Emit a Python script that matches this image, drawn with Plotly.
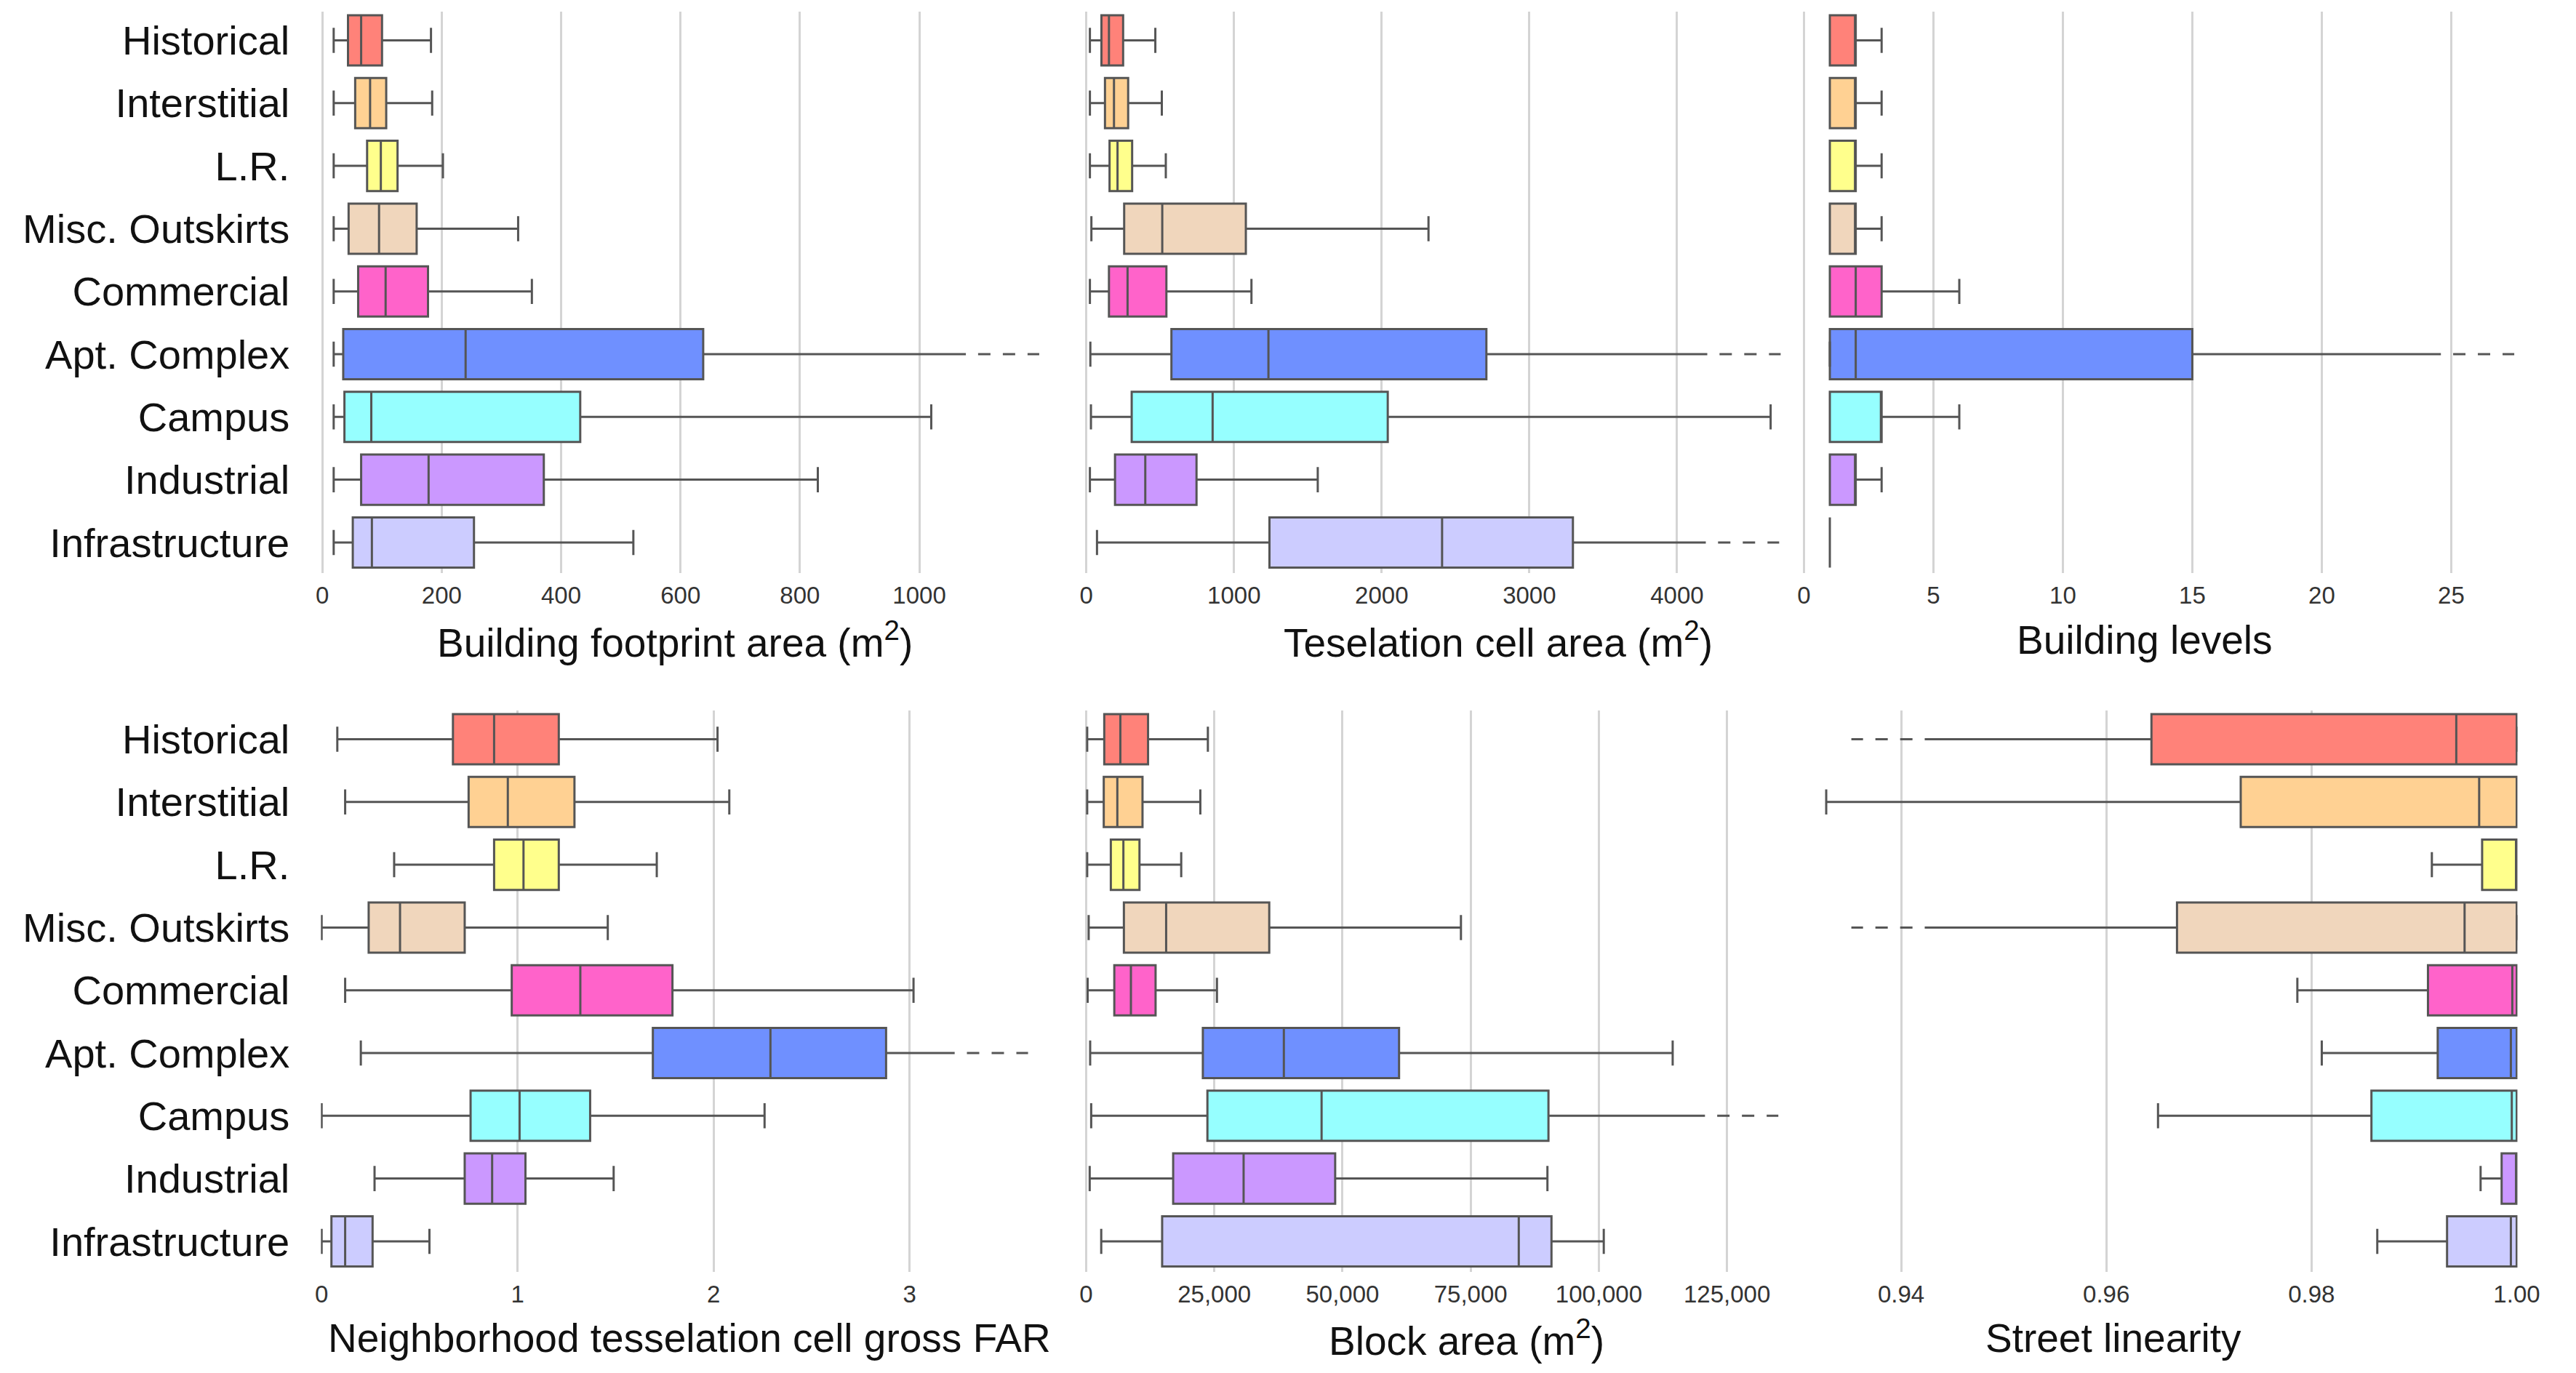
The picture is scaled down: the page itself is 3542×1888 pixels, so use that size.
import plotly.graph_objects as go

# ---------------- data ----------------
categories = ["Historical", "Interstitial", "L.R.", "Misc. Outskirts", "Commercial",
              "Apt. Complex", "Campus", "Industrial", "Infrastructure"]
colors = ["#FF8279", "#FFD193", "#FFFF8C", "#F0D6BC", "#FF63CA",
          "#6F90FF", "#96FFFF", "#CB98FF", "#CCCCFF"]

# Building footprint area (m2)
fp_low = [19, 19, 19, 19, 19, 19, 19, 19, 19]
fp_q1 = [43, 55, 75, 44, 60, 35, 37, 65, 51]
fp_med = [65, 80, 98, 95, 106, 240, 82, 178, 83]
fp_q3 = [100, 107, 126, 158, 177, 638, 432, 371, 254]
fp_high = [182, 184, 202, 328, 351, 1078, 1020, 830, 521]
fp_cut = ["Apt. Complex"]
fp_ticks = [0, 200, 400, 600, 800, 1000]

# Teselation cell area (m2)
ts_low = [24, 24, 24, 34, 24, 27, 31, 24, 72]
ts_q1 = [102, 126, 157, 256, 153, 576, 307, 194, 1240]
ts_med = [153, 187, 211, 514, 279, 1233, 855, 399, 2409]
ts_q3 = [249, 283, 310, 1080, 542, 2709, 2041, 746, 3295]
ts_high = [467, 511, 538, 2317, 1118, 4205, 4634, 1567, 4195]
ts_cut = ["Apt. Complex", "Infrastructure"]
ts_ticks = [0, 1000, 2000, 3000, 4000]

# Building levels
lv_low = [1, 1, 1, 1, 1, 1, 1, 1, 1]
lv_q1 = [1, 1, 1, 1, 1, 1, 1, 1, 1]
lv_med = [2, 2, 2, 2, 2, 2, 3, 2, 1]
lv_q3 = [2, 2, 2, 2, 3, 15, 3, 2, 1]
lv_high = [3, 3, 3, 3, 6, 24.6, 6, 3, 1]
lv_cut = ["Apt. Complex"]
lv_ticks = [0, 5, 10, 15, 20, 25]

# Neighborhood tesselation cell gross FAR
far_low = [0.08, 0.12, 0.37, 0.0, 0.12, 0.20, 0.0, 0.27, 0.0]
far_q1 = [0.67, 0.75, 0.88, 0.24, 0.97, 1.69, 0.76, 0.73, 0.05]
far_med = [0.88, 0.95, 1.03, 0.40, 1.32, 2.29, 1.01, 0.87, 0.12]
far_q3 = [1.21, 1.29, 1.21, 0.73, 1.79, 2.88, 1.37, 1.04, 0.26]
far_high = [2.02, 2.08, 1.71, 1.46, 3.02, 3.23, 2.26, 1.49, 0.55]
far_cut = ["Apt. Complex"]
far_ticks = [0, 1, 2, 3]

# Block area (m2)
blk_low = [200, 200, 200, 490, 290, 780, 980, 690, 2940]
blk_q1 = [3530, 3430, 4810, 7360, 5490, 22760, 23650, 16970, 14820]
blk_med = [6670, 6080, 7260, 15600, 8730, 38560, 45920, 30710, 84380]
blk_q3 = [12070, 10990, 10400, 35710, 13540, 61030, 90170, 48570, 90760]
blk_high = [23740, 22270, 18540, 73100, 25510, 114400, 120700, 89970, 100960]
blk_cut = ["Campus"]
blk_ticks = [0, 25000, 50000, 75000, 100000, 125000]

# Street linearity
lin_low = [0.9423, 0.9327, 0.99173, 0.9423, 0.97862, 0.9810, 0.96504, 0.99648, 0.98641]
lin_q1 = [0.9644, 0.9731, 0.99663, 0.96689, 0.99135, 0.9923, 0.98584, 0.99853, 0.99321]
lin_med = [0.99411, 0.99634, 1.0, 0.99492, 0.99957, 0.99943, 0.99952, 1.0, 0.99943]
lin_q3 = [1.0, 1.0, 1.0, 1.0, 1.0, 1.0, 1.0, 1.0, 1.0]
lin_high = [1.0, 1.0, 1.0, 1.0, 1.0, 1.0, 1.0, 1.0, 1.0]
lin_cut = ["Historical", "Misc. Outskirts"]
lin_ticks = [0.94, 0.96, 0.98, 1.00]

titles = ["Building footprint area (m<sup>2</sup>)", "Teselation cell area (m<sup>2</sup>)",
          "Building levels", "Neighborhood tesselation cell gross FAR",
          "Block area (m<sup>2</sup>)", "Street linearity"]

# ---------------- layout geometry (page pixels) ----------------
W, H = 3542, 1888
OFF = 8                      # default page margin around the figure
FW, FH = W - 2 * OFF, H - 2 * OFF


def px(xp):
    return (xp - OFF) / FW


def py(yp):
    return 1 - (yp - OFF) / FH


EDGE = "#555555"
FONT = "Liberation Sans, Arial, sans-serif"
col_px = [(438, 1438), (1476, 2474), (2497, 3492)]
row_px = [(16, 788.3), (977, 1749.3)]
yrange = [8.491, -0.4577]

panels = [
    dict(low=fp_low, q1=fp_q1, med=fp_med, q3=fp_q3, high=fp_high, cut=fp_cut, side="high",
         ticks=fp_ticks, fmt=lambda v: f"{v:d}", rng=[-2.4, 1202.4], col=0, row=0, tx=930),
    dict(low=ts_low, q1=ts_q1, med=ts_med, q3=ts_q3, high=ts_high, cut=ts_cut, side="high",
         ticks=ts_ticks, fmt=lambda v: f"{v:d}", rng=[-128, 4733], col=1, row=0, tx=2075),
    dict(low=lv_low, q1=lv_q1, med=lv_med, q3=lv_q3, high=lv_high, cut=lv_cut, side="high",
         ticks=lv_ticks, fmt=lambda v: f"{v:d}", rng=[-0.083, 27.556], col=2, row=0, tx=2974),
    dict(low=far_low, q1=far_q1, med=far_med, q3=far_q3, high=far_high, cut=far_cut, side="high",
         ticks=far_ticks, fmt=lambda v: f"{v:d}", rng=[-0.0037, 3.666], col=0, row=1, tx=950),
    dict(low=blk_low, q1=blk_q1, med=blk_med, q3=blk_q3, high=blk_high, cut=blk_cut, side="high",
         ticks=blk_ticks, fmt=lambda v: f"{v:,d}", rng=[-3647, 136358], col=1, row=1, tx=2031),
    dict(low=lin_low, q1=lin_q1, med=lin_med, q3=lin_q3, high=lin_high, cut=lin_cut, side="low",
         ticks=lin_ticks, fmt=lambda v: f"{v:.2f}", rng=[0.93032, 1.00007], col=2, row=1, tx=2930),
]

fig = go.Figure()
layout = dict(width=FW, height=FH, margin=dict(l=0, r=0, t=0, b=0, pad=0), autosize=False,
              paper_bgcolor="white", plot_bgcolor="white", showlegend=False,
              font=dict(family=FONT, color="#111111"), annotations=[])

for k, p in enumerate(panels):
    sfx = "" if k == 0 else str(k + 1)
    xa, ya = "x" + sfx, "y" + sfx
    c0, c1 = col_px[p["col"]]
    r0, r1 = row_px[p["row"]]
    ppu = (c1 - c0) / (p["rng"][1] - p["rng"][0])
    gap, dash_len = 17 / ppu, 85 / ppu
    for i, cat in enumerate(categories):
        cut = cat in p["cut"]
        fig.add_trace(go.Box(
            y=[i], q1=[p["q1"][i]], median=[p["med"][i]], q3=[p["q3"][i]],
            lowerfence=[p["low"][i]], upperfence=[p["high"][i]],
            orientation="h", width=0.8, fillcolor=colors[i],
            line=dict(color=EDGE, width=3), whiskerwidth=0 if cut else 0.5,
            boxpoints=False, hoverinfo="skip", xaxis=xa, yaxis=ya))
        if cut:
            if p["side"] == "high":
                capx = p["low"][i]
                x0 = p["high"][i] + gap
                x1 = x0 + dash_len
            else:
                capx = p["high"][i]
                x0 = p["low"][i] - gap
                x1 = x0 - dash_len
            fig.add_trace(go.Scatter(x=[capx, capx], y=[i - 0.2, i + 0.2], mode="lines",
                                     line=dict(color=EDGE, width=3), hoverinfo="skip",
                                     xaxis=xa, yaxis=ya))
            fig.add_trace(go.Scatter(x=[x0, x1], y=[i, i], mode="lines",
                                     line=dict(color=EDGE, width=3, dash="17px,17px"),
                                     hoverinfo="skip", xaxis=xa, yaxis=ya))
    layout["xaxis" + sfx] = dict(
        domain=[px(c0), px(c1)], anchor=ya, range=p["rng"], tickmode="array",
        tickvals=p["ticks"], ticktext=[p["fmt"](v) for v in p["ticks"]],
        showgrid=True, gridcolor="#D4D4D4", gridwidth=2.5, zeroline=False, showline=False,
        ticks="", tickfont=dict(size=33, color="#333333", family=FONT), ticklabelstandoff=8)
    layout["yaxis" + sfx] = dict(
        domain=[py(r1), py(r0)], anchor=xa, range=yrange, tickmode="array",
        tickvals=list(range(len(categories))), ticktext=categories,
        showticklabels=(p["col"] == 0), showgrid=False, zeroline=False, showline=False,
        ticks="", tickfont=dict(size=56, color="#111111", family=FONT), ticklabelstandoff=42)
    layout["annotations"].append(dict(
        text=titles[k], x=px(p["tx"]), y=py(880 if p["row"] == 0 else 1840),
        xref="paper", yref="paper", xanchor="center", yanchor="middle", showarrow=False,
        font=dict(size=55, color="#111111", family=FONT)))

fig.update_layout(**layout)
fig.write_html("out.html", config={"displayModeBar": False})
